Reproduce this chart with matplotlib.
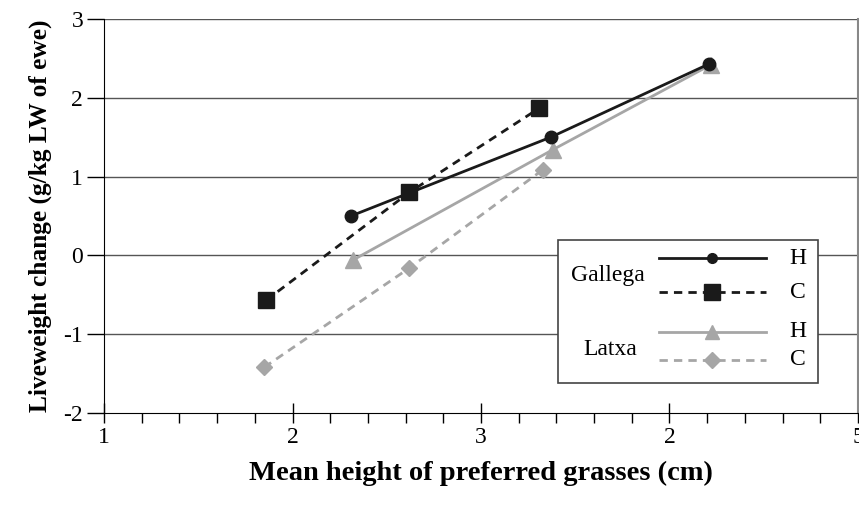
import matplotlib.pyplot as plt
from matplotlib.lines import Line2D
from matplotlib.patches import Rectangle
from matplotlib.ticker import MultipleLocator

plt.rcParams['font.family'] = ['Liberation Serif', 'DejaVu Serif']
plt.rcParams['axes.unicode_minus'] = False

# Gallega breed
gallega_h_x = [2.31, 3.37, 4.21]
gallega_h_y = [0.50, 1.50, 2.43]
gallega_c_x = [1.86, 2.62, 3.31]
gallega_c_y = [-0.57, 0.80, 1.87]

# Latxa breed
latxa_h_x = [2.32, 3.38, 4.22]
latxa_h_y = [-0.06, 1.34, 2.42]
latxa_c_x = [1.85, 2.62, 3.33]
latxa_c_y = [-1.42, -0.16, 1.09]

xtick_pos = [1, 2, 3, 4, 5]
xtick_labels = ['1', '2', '3', '2', '5']
ytick_pos = [-2, -1, 0, 1, 2, 3]

black = '#1a1a1a'
grey = '#a6a6a6'

fig = plt.figure(figsize=(8.59, 5.11), dpi=100)
ax = fig.add_axes([0.1211, 0.1918, 0.8777, 0.7710])

for y in [-1, 0, 1, 2, 3]:
    ax.axhline(y, color='#555555', lw=1.0, zorder=1)

ax.plot(gallega_h_x, gallega_h_y, color=black, lw=2, marker='o', ms=9, zorder=4)
ax.plot(gallega_c_x, gallega_c_y, color=black, lw=2, ls=(0, (3, 2.2)), marker='s', ms=11, zorder=4)
ax.plot(latxa_h_x, latxa_h_y, color=grey, lw=2, marker='^', ms=11, zorder=3)
ax.plot(latxa_c_x, latxa_c_y, color=grey, lw=2, ls=(0, (3, 2.2)), marker='D', ms=8.5, zorder=3)

ax.set_xlim(1, 5)
ax.set_ylim(-2, 3)
ax.set_xticks(xtick_pos)
ax.set_xticklabels(xtick_labels)
ax.set_yticks(ytick_pos)
ax.xaxis.set_minor_locator(MultipleLocator(0.2))
ax.tick_params(axis='x', which='major', direction='inout', length=14, width=1, labelsize=17, pad=3)
ax.tick_params(axis='x', which='minor', direction='out', length=7, width=1)
ax.tick_params(axis='y', which='major', direction='out', length=12, width=1, labelsize=17, pad=3)

ax.spines['top'].set_visible(False)
ax.spines['right'].set_color('#888888')
ax.spines['right'].set_linewidth(1.5)
ax.spines['left'].set_color('black')
ax.spines['bottom'].set_color('black')

ax.set_xlabel('Mean height of preferred grasses (cm)', fontsize=20.5, fontweight='bold', labelpad=9)
ax.set_ylabel('Liveweight change (g/kg LW of ewe)', fontsize=18.3, fontweight='bold', labelpad=8)

# legend drawn by hand in axes coordinates
t = ax.transAxes
ax.add_patch(Rectangle((0.602, 0.076), 0.345, 0.363, transform=t, facecolor='white',
                       edgecolor='#444444', lw=1.2, zorder=5))
rows = [
    (0.393, black, '-', 'o', 7, 'H'),
    (0.307, black, (0, (3, 2.2)), 's', 11, 'C'),
    (0.206, grey, '-', '^', 10, 'H'),
    (0.135, grey, (0, (3, 2.2)), 'D', 8, 'C'),
]
for yy, col, ls, mk, ms, lab in rows:
    ax.add_line(Line2D([0.736, 0.878], [yy, yy], transform=t, color=col, lw=2, ls=ls, zorder=6))
    ax.add_line(Line2D([0.806], [yy], transform=t, color=col, marker=mk, ms=ms, zorder=7))
    ax.text(0.92, yy, lab, transform=t, fontsize=17, ha='center', va='center', zorder=7)
ax.text(0.668, 0.350, 'Gallega', transform=t, fontsize=17, ha='center', va='center', zorder=7)
ax.text(0.672, 0.160, 'Latxa', transform=t, fontsize=17, ha='center', va='center', zorder=7)

plt.savefig('out.png', dpi=100)
